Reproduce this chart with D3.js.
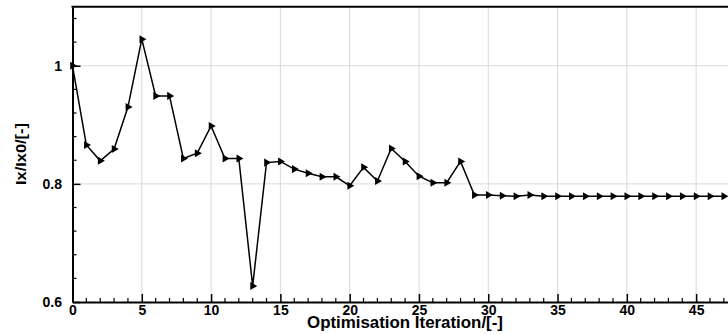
<html>
<head>
<meta charset="UTF-8">
<title>Ix/Ix0 per iteration</title>
<script src="https://d3js.org/d3.v7.min.js"></script>
<style>
 body { margin:0; background:#fff; }
 text { font-family: "Liberation Sans", Arial, sans-serif; font-weight: bold; fill:#000; }
</style>
</head>
<body>
<svg width="728" height="334"></svg>
<script>
// Ix/Ix0 ratio, one value per optimisation iteration (0..47)
var ratio = [1.000, 0.866, 0.839, 0.859, 0.930, 1.045, 0.949, 0.949, 0.843, 0.852,
             0.898, 0.843, 0.843, 0.627, 0.836, 0.838, 0.825, 0.818, 0.812, 0.812,
             0.797, 0.828, 0.805, 0.860, 0.838, 0.813, 0.802, 0.802, 0.838, 0.781,
             0.781, 0.780, 0.779, 0.781, 0.779, 0.779, 0.779, 0.779, 0.779, 0.779,
             0.779, 0.779, 0.779, 0.779, 0.779, 0.779, 0.779, 0.779];
var xMajor = [0, 5, 10, 15, 20, 25, 30, 35, 40, 45];
var yMajor = [0.6, 0.8, 1];
var yMinor = [0.64, 0.68, 0.72, 0.76, 0.84, 0.88, 0.92, 0.96, 1.04, 1.08];

var svg = d3.select("svg");

var x = d3.scaleLinear().domain([0, 47.3]).range([72.5, 728]);
var y = d3.scaleLinear().domain([0.6, 1.1]).range([302, 6.7]);

// grid
svg.append("g").selectAll("line").data(xMajor.slice(1)).enter().append("line")
  .attr("x1", d => x(d)).attr("x2", d => x(d))
  .attr("y1", y(1.1)).attr("y2", y(0.6))
  .style("stroke", "#d9d9d9").style("stroke-width", 1);
svg.append("g").selectAll("line").data(yMajor.slice(1)).enter().append("line")
  .attr("x1", x(0)).attr("x2", 728)
  .attr("y1", d => y(d)).attr("y2", d => y(d))
  .style("stroke", "#d9d9d9").style("stroke-width", 1);

// minor x ticks every iteration (inward)
var xMinor = x.ticks(47).filter(d => d % 5 != 0 && d <= 47);
svg.append("g").selectAll("line").data(xMinor).enter().append("line")
  .attr("x1", d => x(d)).attr("x2", d => x(d))
  .attr("y1", y(0.6)).attr("y2", y(0.6) - 4)
  .style("stroke", "#000").style("stroke-width", 1.2);

// y minor ticks
svg.append("g").selectAll("line").data(yMinor).enter().append("line")
  .attr("x1", x(0)).attr("x2", x(0) + 4)
  .attr("y1", d => y(d)).attr("y2", d => y(d))
  .style("stroke", "#000").style("stroke-width", 1.2);

// x axis (major ticks pointing in)
var xAxis = d3.axisBottom(x).tickValues(xMajor).tickSizeInner(-8).tickSizeOuter(0).tickPadding(3.5);
var gx = svg.append("g").attr("transform", "translate(0," + y(0.6) + ")").call(xAxis);
gx.select(".domain").style("stroke-width", 2);
gx.selectAll(".tick line").style("stroke-width", 1.5);
gx.selectAll(".tick text").style("font-size", "14px").style("font-family", '"Liberation Sans", Arial, sans-serif').style("font-weight", "bold");

var yAxis = d3.axisLeft(y).tickValues(yMajor).tickFormat(d3.format("~g")).tickSizeInner(-8).tickSizeOuter(0).tickPadding(10.5);
var gy = svg.append("g").attr("transform", "translate(" + x(0) + ",0)").call(yAxis);
gy.select(".domain").style("stroke-width", 2);
gy.selectAll(".tick line").style("stroke-width", 1.5);
gy.selectAll(".tick text").style("font-size", "14px").style("font-family", '"Liberation Sans", Arial, sans-serif').style("font-weight", "bold");

// top border
svg.append("line").attr("x1", x(0) - 1).attr("x2", 728)
  .attr("y1", y(1.1)).attr("y2", y(1.1))
  .style("stroke", "#000").style("stroke-width", 2);

// line
var line = d3.line().x((d, i) => x(i)).y(d => y(d));
svg.append("path").datum(ratio).attr("d", line)
  .style("fill", "none").style("stroke", "#000").style("stroke-width", 1.5);

// triangle markers pointing right
svg.append("g").selectAll("path").data(ratio).enter().append("path")
  .attr("d", d3.symbol().type(d3.symbolTriangle).size(28))
  .attr("transform", (d, i) => "translate(" + x(i) + "," + y(d) + ") rotate(90)")
  .style("fill", "#000");

// axis titles
svg.append("text").attr("x", 405).attr("y", 328).attr("text-anchor", "middle")
  .attr("textLength", 196).attr("lengthAdjust", "spacingAndGlyphs")
  .style("font-size", "16.5px").text("Optimisation Iteration/[-]");
svg.append("text").attr("transform", "translate(26,154) rotate(-90)").attr("text-anchor", "middle")
  .attr("textLength", 62).attr("lengthAdjust", "spacingAndGlyphs")
  .style("font-size", "15px").text("Ix/Ix0/[-]");
</script>
</body>
</html>
